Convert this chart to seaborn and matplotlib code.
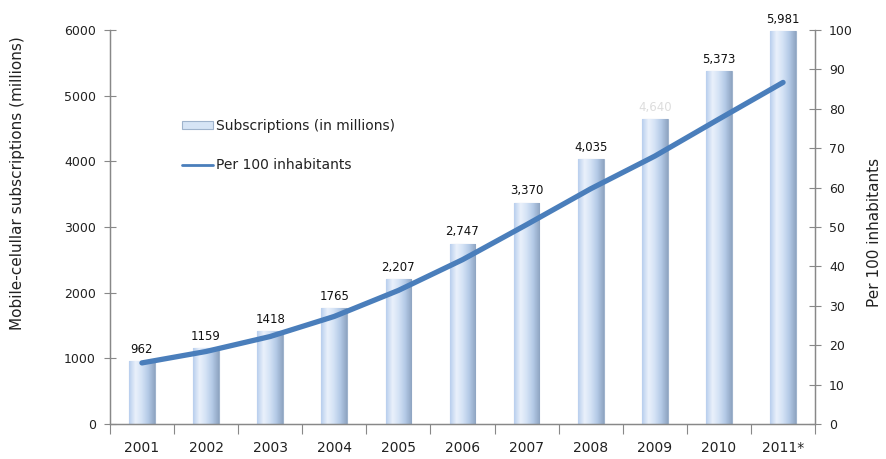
import matplotlib
matplotlib.use("Agg")
import matplotlib.pyplot as plt
import seaborn as sns
import numpy as np
import pandas as pd
from matplotlib.colors import LinearSegmentedColormap
from matplotlib.patches import Patch
from matplotlib.lines import Line2D

years = ["2001", "2002", "2003", "2004", "2005", "2006", "2007", "2008", "2009", "2010", "2011*"]
subscriptions = [962, 1159, 1418, 1765, 2207, 2747, 3370, 4035, 4640, 5373, 5981]
bar_labels = ["962", "1159", "1418", "1765", "2,207", "2,747", "3,370", "4,035", "4,640", "5,373", "5,981"]
per100 = [15.5, 18.4, 22.2, 27.3, 33.9, 41.7, 50.6, 59.7, 68.0, 77.4, 86.7]
left_ticks = [0, 1000, 2000, 3000, 4000, 5000, 6000]
right_ticks = [0, 10, 20, 30, 40, 50, 60, 70, 80, 90, 100]

sns.set_theme(style="white")
plt.rcParams['font.family'] = ['DejaVu Sans']

df = pd.DataFrame({"year": years, "subs": subscriptions, "p100": per100})

fig = plt.figure(figsize=(8.86, 4.59), dpi=100)
ax = fig.add_axes([0.124, 0.0763, 0.796, 0.8583])

sns.barplot(data=df, x="year", y="subs", ax=ax, color="#c6d9f1", width=0.4,
            edgecolor="#9fb3cc", linewidth=0.8, saturation=1)

# gradient fill for bars
cmap = LinearSegmentedColormap.from_list("bar", ["#b9cfee", "#eaf1fb", "#d3e2f5", "#b3c9e6", "#8fa5c2"])
grad = np.linspace(0, 1, 64).reshape(1, -1)
for p in list(ax.patches):
    x0, y0 = p.get_x(), p.get_y()
    w, h = p.get_width(), p.get_height()
    im = ax.imshow(grad, cmap=cmap, aspect="auto", extent=[x0, x0 + w, y0, y0 + h],
                   zorder=p.get_zorder() + 0.1)
    im.set_clip_path(p)

ax.set_xlim(-0.5, 10.5)
ax.set_ylim(0, 6000)
ax.set_yticks(left_ticks)
ax.set_xlabel("")
ax.set_ylabel("Mobile-celullar subscriptions (millions)", fontsize=11, color="#222222")
ax.yaxis.set_label_coords(-0.12, 0.612)

for i, (v, lab) in enumerate(zip(subscriptions, bar_labels)):
    col = "#dddddd" if years[i] == "2009" else "#111111"
    ax.text(i, v + 80, lab, ha="center", va="bottom", fontsize=8.5, color=col, zorder=5)

ax2 = ax.twinx()
sns.lineplot(x=np.arange(len(years)), y=per100, ax=ax2, color="#4a7ebb", linewidth=3.8,
             solid_capstyle="round", legend=False)
ax2.set_ylim(0, 100)
ax2.set_yticks(right_ticks)
ax2.set_xlim(-0.5, 10.5)
ax2.set_ylabel("Per 100 inhabitants", fontsize=11, color="#222222")
ax2.yaxis.set_label_coords(1.074, 0.485)

for a in (ax, ax2):
    a.spines["top"].set_visible(False)
    for s in ["left", "right", "bottom"]:
        a.spines[s].set_color("#888888")
        a.spines[s].set_linewidth(0.9)

ax.tick_params(axis="y", direction="inout", length=8, width=0.8, color="#888888",
               labelsize=9, labelcolor="#222222", left=True, pad=6)
ax2.tick_params(axis="y", direction="inout", length=8, width=0.8, color="#888888",
                labelsize=9, labelcolor="#222222", right=True, pad=6)
ax.set_xticks(np.arange(len(years)))
ax.set_xticklabels(years)
ax.tick_params(axis="x", which="major", length=0, labelsize=10, labelcolor="#222222", pad=12)
ax.set_xticks(np.arange(-0.5, len(years), 1.0), minor=True)
ax.tick_params(axis="x", which="minor", direction="out", length=7, width=0.8, color="#888888", bottom=True)

handles = [Patch(facecolor="#d6e4f5", edgecolor="#9fb3cc", linewidth=0.8),
           Line2D([0], [0], color="#4a7ebb", linewidth=2)]
leg = ax2.legend(handles, ["Subscriptions (in millions)", "Per 100 inhabitants"],
                 loc="upper left", bbox_to_anchor=(0.085, 0.805), frameon=False,
                 fontsize=10, handlelength=2.2, handletextpad=0.2, labelspacing=1.8,
                 handleheight=0.5)
for t in leg.get_texts():
    t.set_color("#222222")

fig.savefig("out.png", dpi=100)
